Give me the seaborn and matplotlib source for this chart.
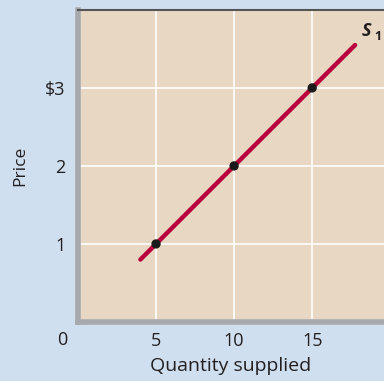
import matplotlib
matplotlib.use("Agg")
import matplotlib.pyplot as plt
import pandas as pd
import seaborn as sns

PUNKT_MENGDE = [5, 10, 15]
PUNKT_PRIS = [1, 2, 3]
LINJE_MENGDE = [4, 17.75]
LINJE_PRIS = [0.8, 3.55]
X_TICKS = [5, 10, 15]
Y_TICKS = [1, 2, 3]
Y_TICK_LABELS = ["1", "2", "$3"]

BAKGRUNN = "#cfdff0"
FLATE = "#e8d8c3"
KURVE = "#b8003c"
TEKST = "#231f20"


def main() -> None:
    sns.set_theme(style="white")
    plt.rcParams["font.family"] = ["Open Sans", "DejaVu Sans"]

    punkter = pd.DataFrame({"mengde": PUNKT_MENGDE, "pris": PUNKT_PRIS})
    linje = pd.DataFrame({"mengde": LINJE_MENGDE, "pris": LINJE_PRIS})

    fig = plt.figure(figsize=(3.84, 3.81), dpi=100, facecolor=BAKGRUNN)
    ax = fig.add_axes([0.203, 0.155, 0.797, 0.819])
    ax.set_facecolor(FLATE)

    sns.lineplot(data=linje, x="mengde", y="pris", color=KURVE, linewidth=3.2, ax=ax, zorder=3)
    sns.scatterplot(data=punkter, x="mengde", y="pris", color="#1a1a1a", s=45, edgecolor="none", ax=ax, zorder=4)

    ax.set_xlim(0, 19.6)
    ax.set_ylim(0, 4)
    ax.set_xticks(X_TICKS)
    ax.set_xticklabels([str(v) for v in X_TICKS])
    ax.set_yticks(Y_TICKS)
    ax.set_yticklabels(Y_TICK_LABELS)
    ax.tick_params(length=0, labelsize=13, colors=TEKST)
    ax.tick_params(axis="x", pad=7)
    ax.tick_params(axis="y", pad=9)
    ax.grid(True, color="white", linewidth=1.2)

    ax.spines["left"].set_color("#a7a9ac")
    ax.spines["left"].set_linewidth(4)
    ax.spines["bottom"].set_color("#a7a9ac")
    ax.spines["bottom"].set_linewidth(4)
    ax.spines["top"].set_color("#555555")
    ax.spines["top"].set_linewidth(1.5)
    ax.spines["right"].set_visible(False)

    ax.set_xlabel("Quantity supplied", fontsize=14, color=TEKST, labelpad=5)
    ax.set_ylabel("Price", fontsize=12.5, color=TEKST, labelpad=12)

    ax.annotate("0", xy=(0, 0), xytext=(-11, -13), textcoords="offset points",
                ha="center", va="center", fontsize=13, color=TEKST, annotation_clip=False)
    ax.text(18.2, 3.73, "S", fontsize=13, fontweight="bold", fontstyle="italic", color=TEKST,
            ha="left", va="center")
    ax.text(19.0, 3.66, "1", fontsize=9, fontweight="bold", color=TEKST, ha="left", va="center")

    fig.savefig("out.png", dpi=100, facecolor=BAKGRUNN)


if __name__ == "__main__":
    main()
